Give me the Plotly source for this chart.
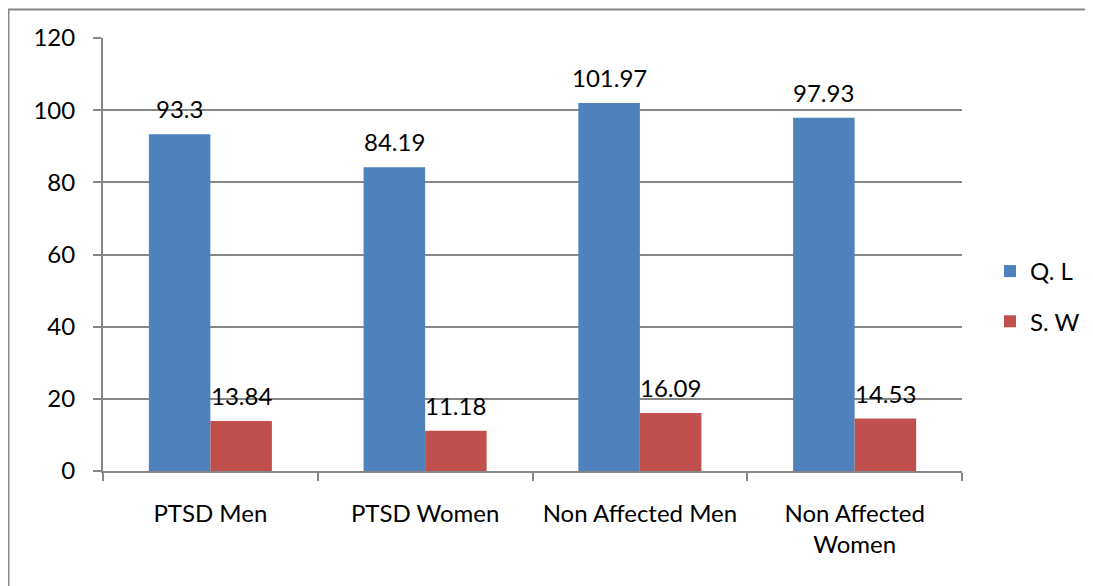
import plotly.graph_objects as go

categories = ["PTSD Men", "PTSD Women", "Non Affected Men", "Non Affected<br>Women"]
ql_values = [93.3, 84.19, 101.97, 97.93]
sw_values = [13.84, 11.18, 16.09, 14.53]
ql_labels = ["93.3", "84.19", "101.97", "97.93"]
sw_labels = ["13.84", "11.18", "16.09", "14.53"]
y_ticks = [0, 20, 40, 60, 80, 100, 120]

FONT = "Lato, Calibri, Carlito, sans-serif"
FS = 24
GRID = "#868686"

fig = go.Figure()
fig.add_trace(go.Bar(name="Q. L", x=categories, y=ql_values, marker_color="#4F81BD",
                     marker_line_width=0, legendgroup="a"))
fig.add_trace(go.Bar(name="S. W", x=categories, y=sw_values, marker_color="#C0504D",
                     marker_line_width=0, legendgroup="b"))

bar_px = 61.5
for cat, v, lab in zip(categories, ql_values, ql_labels):
    fig.add_annotation(x=cat, y=v, text=lab, showarrow=False, yanchor="bottom",
                       xshift=-bar_px / 2, yshift=9, font=dict(size=FS, color="black"))
for cat, v, lab in zip(categories, sw_values, sw_labels):
    fig.add_annotation(x=cat, y=v, text=lab, showarrow=False, yanchor="bottom",
                       xshift=bar_px / 2, yshift=9, font=dict(size=FS, color="black"))

# page body has an 8px margin; figure pixel coords = window coords - 8
OFF = 8
W, H = 1093 - OFF, 586 - OFF
l, r, t, b = 103 - OFF, 131, 38 - OFF, 115
pw, ph = W - l - r, H - t - b
def px(x):
    return (x - OFF - l) / pw
def py(y):
    return (H - b - (y - OFF)) / ph

fig.add_shape(type="line", xref="paper", yref="paper", x0=px(8.5), x1=px(8.5), y0=py(9), y1=py(600),
              line=dict(color="#868686", width=2))
fig.add_shape(type="line", xref="paper", yref="paper", x0=px(8), x1=px(1100), y0=py(9.5), y1=py(9.5),
              line=dict(color="#868686", width=2))

fig.update_layout(
    width=W, height=H,
    margin=dict(l=l, r=r, t=t, b=b, pad=0, autoexpand=False),
    paper_bgcolor="white", plot_bgcolor="white",
    font=dict(family=FONT, size=FS, color="black"),
    barmode="group", bargap=0.427, bargroupgap=0,
    showlegend=True,
    legend=dict(x=px(990), y=py(249), xanchor="left", yanchor="top",
                font=dict(size=FS), tracegroupgap=16, itemwidth=30, traceorder="grouped",
                bgcolor="rgba(0,0,0,0)"),
    xaxis=dict(showline=True, linecolor=GRID, linewidth=2, ticks="outside", ticklen=8,
               tickcolor=GRID, tickwidth=2, tickson="boundaries", showgrid=False,
               tickfont=dict(size=FS), ticklabelstandoff=20, automargin=False),
    yaxis=dict(range=[0, 120], tickvals=y_ticks, showline=True, linecolor=GRID, linewidth=2,
               ticks="outside", ticklen=8, tickcolor=GRID, tickwidth=2,
               showgrid=True, gridcolor=GRID, gridwidth=1.5, zeroline=False,
               tickfont=dict(size=FS), ticklabelstandoff=13, automargin=False),
)

fig.write_html("out.html")
